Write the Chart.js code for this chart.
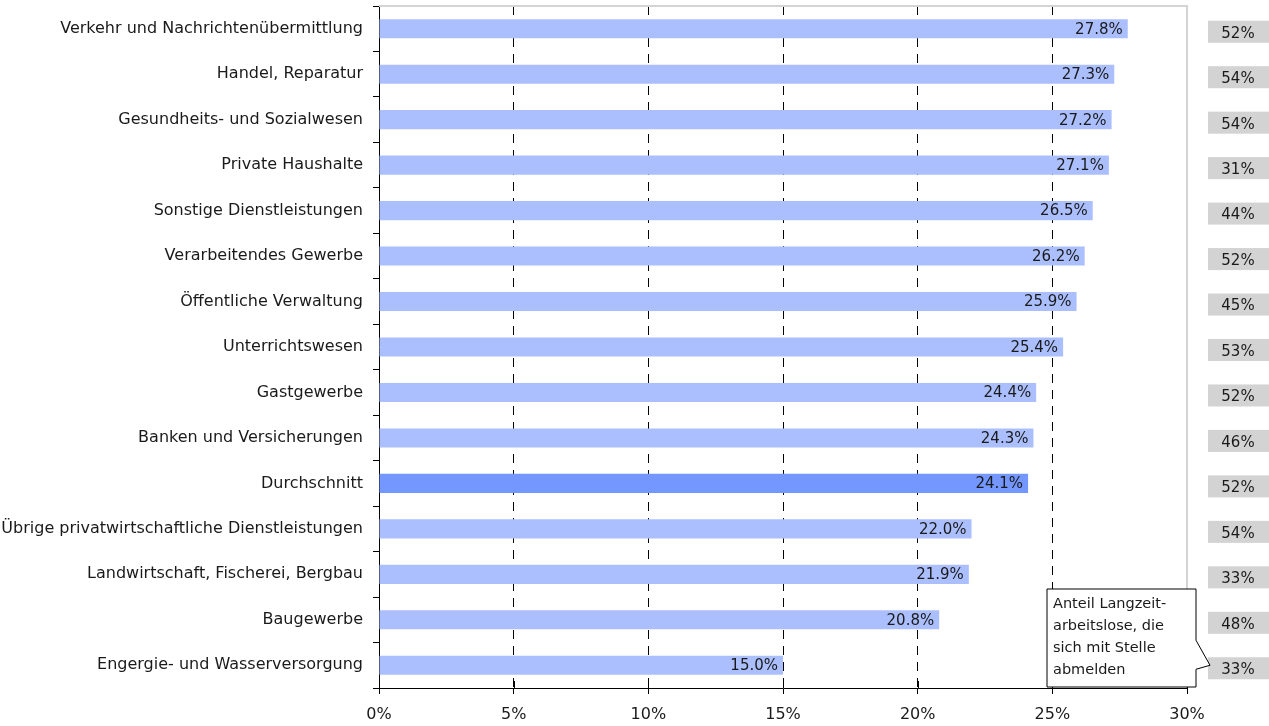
<!DOCTYPE html>
<html>
<head>
<meta charset="utf-8">
<script src="https://cdn.jsdelivr.net/npm/chart.js@4"></script>
<style>
  html, body { margin: 0; padding: 0; background: #fff; }
  #wrap { width: 1269px; height: 726px; }
</style>
</head>
<body>
<div id="wrap"><canvas id="chart" width="1269" height="726"></canvas></div>
<script>
const categories = [
  "Verkehr und Nachrichtenübermittlung",
  "Handel, Reparatur",
  "Gesundheits- und Sozialwesen",
  "Private Haushalte",
  "Sonstige Dienstleistungen",
  "Verarbeitendes Gewerbe",
  "Öffentliche Verwaltung",
  "Unterrichtswesen",
  "Gastgewerbe",
  "Banken und Versicherungen",
  "Durchschnitt",
  "Übrige privatwirtschaftliche Dienstleistungen",
  "Landwirtschaft, Fischerei, Bergbau",
  "Baugewerbe",
  "Engergie- und Wasserversorgung"
];
const values = [27.8, 27.3, 27.2, 27.1, 26.5, 26.2, 25.9, 25.4, 24.4, 24.3, 24.1, 22.0, 21.9, 20.8, 15.0];
const shareWithJob = [52, 54, 54, 31, 44, 52, 45, 53, 52, 46, 52, 54, 33, 48, 33];
const xTicks = [0, 5, 10, 15, 20, 25, 30];
const calloutLines = ["Anteil Langzeit-", "arbeitslose, die", "sich mit Stelle", "abmelden"];

const FONT = "'DejaVu Sans', sans-serif";
const barColors = categories.map(c => c === "Durchschnitt" ? "#7396ff" : "#abbfff");

// Rahmen oben/rechts, Wertbeschriftungen, Kästen rechts, Legende
const extras = {
  id: 'extras',
  beforeDatasetsDraw(chart) {
    const { ctx, chartArea: a } = chart;
    ctx.save();
    ctx.strokeStyle = '#d4d4d4';
    ctx.lineWidth = 2;
    ctx.beginPath();
    ctx.moveTo(a.left, a.top);
    ctx.lineTo(a.right, a.top);
    ctx.lineTo(a.right, a.bottom);
    ctx.stroke();
    ctx.restore();
  },
  afterDatasetsDraw(chart) {
    const { ctx, chartArea: a } = chart;
    const x = chart.scales.x;
    const y = chart.scales.y;
    const meta = chart.getDatasetMeta(0);
    ctx.save();

    // Teilstriche der x-Achse auch oberhalb
    ctx.strokeStyle = '#000';
    ctx.lineWidth = 1;
    xTicks.forEach(v => {
      const px = Math.round(x.getPixelForValue(v)) + 0.5;
      ctx.beginPath();
      ctx.moveTo(px, a.bottom - 7);
      ctx.lineTo(px, a.bottom);
      ctx.stroke();
    });

    ctx.font = '15px ' + FONT;
    ctx.fillStyle = '#1a1a1a';
    ctx.textBaseline = 'middle';
    ctx.textAlign = 'right';
    meta.data.forEach((bar, i) => {
      ctx.fillText(values[i].toFixed(1) + '%', bar.x - 5, bar.y + 1);
    });

    ctx.textAlign = 'center';
    shareWithJob.forEach((v, i) => {
      const cy = y.getPixelForValue(i) + 4;
      ctx.fillStyle = '#d3d3d3';
      ctx.fillRect(1208, cy - 12, 61, 22);
      ctx.fillStyle = '#1a1a1a';
      ctx.fillText(v + '%', 1238, cy + 1);
    });

    // Legende als Sprechblase
    const bx = 1047, by = 589, bw = 149, bh = 98;
    const tipY = y.getPixelForValue(categories.length - 1);
    ctx.beginPath();
    ctx.moveTo(bx, by);
    ctx.lineTo(bx + bw, by);
    ctx.lineTo(bx + bw, tipY - 25);
    ctx.lineTo(1210, tipY);
    ctx.lineTo(bx + bw, tipY + 4);
    ctx.lineTo(bx + bw, by + bh);
    ctx.lineTo(bx, by + bh);
    ctx.closePath();
    ctx.fillStyle = '#fff';
    ctx.fill();
    ctx.strokeStyle = '#000';
    ctx.lineWidth = 1;
    ctx.stroke();
    ctx.fillStyle = '#1a1a1a';
    ctx.textAlign = 'left';
    ctx.font = '14.5px ' + FONT;
    calloutLines.forEach((t, i) => ctx.fillText(t, bx + 6, by + 15 + i * 22));
    ctx.restore();
  }
};

new Chart(document.getElementById('chart'), {
  type: 'bar',
  data: {
    labels: categories,
    datasets: [{
      data: values,
      backgroundColor: barColors,
      borderWidth: 0,
      categoryPercentage: 1,
      barPercentage: 0.42
    }]
  },
  options: {
    indexAxis: 'y',
    responsive: false,
    animation: false,
    layout: { padding: { top: 6, right: 82, left: 0, bottom: 0 } },
    plugins: { legend: { display: false }, tooltip: { enabled: false } },
    scales: {
      x: {
        min: 0, max: 30,
        afterBuildTicks: s => { s.ticks = xTicks.map(v => ({ value: v })); },
        afterFit: s => { s.height = 38; s.paddingLeft = 0; s.paddingRight = 0; },
        ticks: {
          callback: v => v + '%',
          color: '#1a1a1a',
          font: { family: FONT, size: 16 },
          padding: 11,
          maxRotation: 0
        },
        grid: {
          color: c => (c.index === 0 || c.index === xTicks.length - 1) ? 'rgba(0,0,0,0)' : '#000',
          lineWidth: 1,
          tickLength: 6,
          tickColor: '#000',
          tickBorderDash: []
        },
        border: { display: true, color: '#000', width: 1, dash: [9, 7] }
      },
      y: {
        afterFit: s => { s.width = 379; s.paddingTop = 0; s.paddingBottom = 0; },
        ticks: {
          color: '#1a1a1a',
          font: { family: FONT, size: 16 },
          padding: 10
        },
        grid: {
          offset: true,
          drawOnChartArea: false,
          tickLength: 6,
          color: '#000',
          tickColor: '#000'
        },
        border: { display: true, color: '#000', width: 1 }
      }
    }
  },
  plugins: [extras]
});
</script>
</body>
</html>
